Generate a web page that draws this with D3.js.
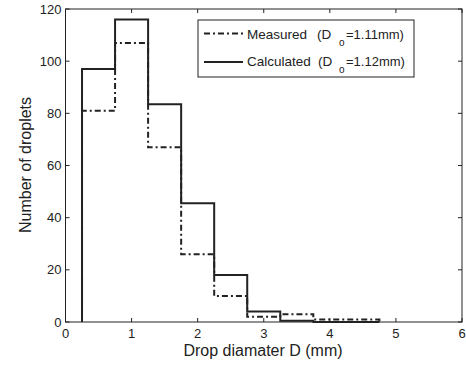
<!DOCTYPE html>
<html><head><meta charset="utf-8">
<script src="https://cdn.jsdelivr.net/npm/d3@7"></script>
<style>body{margin:0;background:#fff}svg{display:block}text{font-family:"Liberation Sans",Arial,sans-serif;fill:#222}</style>
</head><body>
<script>
const binEdges = [0.25,0.75,1.25,1.75,2.25,2.75,3.25,3.75,4.25,4.75];
const measured = [81,107,67,26,10,2,3,1,1];
const calculated = [97,116,83.5,45.5,18,4,0.5,0,0];
const xTicks = [0,1,2,3,4,5,6];
const yTicks = [0,20,40,60,80,100,120];
const legendLabels = [["Measured","(D","o","=1.11mm)"],["Calculated","(D","o","=1.12mm)"]];

const W=466,H=367;
const svg=d3.select("body").append("svg").attr("width",W).attr("height",H);
const x=d3.scaleLinear().domain([0,6]).range([65.5,462]);
const y=d3.scaleLinear().domain([0,120]).range([322,9]);
const col="#222";

svg.append("rect").attr("x",x(0)).attr("y",y(120)).attr("width",x(6)-x(0)).attr("height",y(0)-y(120))
  .attr("fill","none").attr("stroke",col).attr("stroke-width",1);

const tl=4;
const g=svg.append("g");
xTicks.forEach(t=>{
  g.append("line").attr("x1",x(t)).attr("x2",x(t)).attr("y1",y(0)).attr("y2",y(0)-tl).attr("stroke",col);
  g.append("line").attr("x1",x(t)).attr("x2",x(t)).attr("y1",y(120)).attr("y2",y(120)+tl).attr("stroke",col);
  g.append("text").attr("x",x(t)).attr("y",y(0)+16).attr("text-anchor","middle").attr("font-size",13).text(t);
});
yTicks.forEach(t=>{
  g.append("line").attr("x1",x(0)).attr("x2",x(0)+tl).attr("y1",y(t)).attr("y2",y(t)).attr("stroke",col);
  g.append("line").attr("x1",x(6)).attr("x2",x(6)-tl).attr("y1",y(t)).attr("y2",y(t)).attr("stroke",col);
  g.append("text").attr("x",x(0)-4).attr("y",y(t)+4.5).attr("text-anchor","end").attr("font-size",13).text(t);
});

svg.append("text").attr("x",263).attr("y",356).attr("text-anchor","middle").attr("font-size",16).text("Drop diamater D (mm)");
svg.append("text").attr("transform","translate(31,165) rotate(-90)").attr("text-anchor","middle").attr("font-size",16).text("Number of droplets");

function stepPts(vals){
  const pts=[[binEdges[0],0]];
  vals.forEach((v,i)=>{pts.push([binEdges[i],v]);pts.push([binEdges[i+1],v]);});
  pts.push([binEdges[vals.length],0]);
  return pts;
}
const line=d3.line().x(d=>x(d[0])).y(d=>y(d[1]));
const dashMeas="6,3,2,3";
svg.append("path").attr("d",line(stepPts(measured))).attr("fill","none").attr("stroke",col).attr("stroke-width",2).attr("stroke-dasharray",dashMeas);
svg.append("path").attr("d",line(stepPts(calculated))).attr("fill","none").attr("stroke",col).attr("stroke-width",2);

const lg=svg.append("g");
lg.append("rect").attr("x",198).attr("y",20).attr("width",216).attr("height",57).attr("fill","#fff").attr("stroke",col).attr("stroke-width",1);
const parenX=[317,318];
const base=[38.5,66];
[0,1].forEach(i=>{
  const ly=i===0?33.5:62;
  lg.append("line").attr("x1",204).attr("x2",243).attr("y1",ly).attr("y2",ly).attr("stroke",col).attr("stroke-width",2)
    .attr("stroke-dasharray",i===0?dashMeas:null);
  const fs=13.5;
  lg.append("text").attr("x",247).attr("y",base[i]).attr("font-size",fs).text(legendLabels[i][0]);
  lg.append("text").attr("x",parenX[i]).attr("y",base[i]).attr("font-size",fs).text(legendLabels[i][1]);
  lg.append("text").attr("x",339).attr("y",base[i]+7).attr("font-size",10).text(legendLabels[i][2]);
  lg.append("text").attr("x",346).attr("y",base[i]).attr("font-size",13).text(legendLabels[i][3]);
});
</script>
</body></html>
